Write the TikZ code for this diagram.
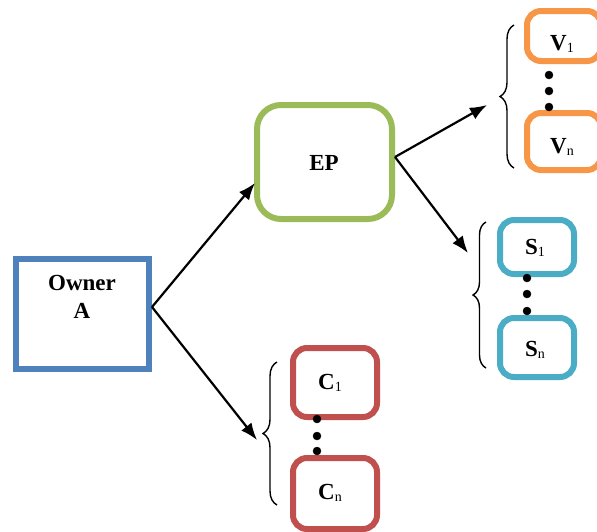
\documentclass[tikz,border=0pt]{standalone}
\usepackage{fontspec}
\setmainfont{Liberation Serif}
\usepackage{xcolor}
\usepackage{tikz}
\usetikzlibrary{arrows.meta}
\usetikzlibrary{decorations.pathreplacing}

\definecolor{ownerblue}{HTML}{4F81BD}
\definecolor{epgreen}{HTML}{9BBB59}
\definecolor{vorange}{HTML}{F79646}
\definecolor{saqua}{HTML}{4BACC6}
\definecolor{cred}{HTML}{C0504D}

\newcommand{\idx}[1]{{\fontsize{14}{14}\selectfont\mdseries\raisebox{-2pt}{#1}}}

\begin{document}
\begin{tikzpicture}[x = 1pt, y = -1pt,
    box/.style = {draw, line width = 6pt, inner sep = 0pt},
    lbl/.style = {font = \fontsize{23}{28}\selectfont\bfseries, inner sep = 0pt},
    link/.style = {line width = 2.2pt, -{Latex[length = 17pt, width = 13pt]}},
    curly/.style = {decorate, decoration = {brace, amplitude = 14pt}, line width = 1.4pt}]
\useasboundingbox (0, 0) rectangle (597, 531);

\node[box, draw = ownerblue, minimum width = 133pt, minimum height = 110pt] (owner) at (82.5, 314) {};
\node[box, draw = epgreen, rounded corners = 24pt, minimum width = 135pt, minimum height = 114pt] (ep) at (324.5, 162) {};
\node[box, draw = vorange, rounded corners = 14pt, minimum width = 74pt, minimum height = 50pt] (v1) at (564, 36) {};
\node[box, draw = vorange, rounded corners = 14pt, minimum width = 74pt, minimum height = 57pt] (vn) at (564, 141.5) {};
\node[box, draw = saqua, rounded corners = 14pt, minimum width = 74pt, minimum height = 54pt] (s1) at (537, 247) {};
\node[box, draw = saqua, rounded corners = 14pt, minimum width = 74pt, minimum height = 59pt] (sn) at (537, 347.5) {};
\node[box, draw = cred, rounded corners = 14pt, minimum width = 84pt, minimum height = 69pt] (c1) at (335, 382.5) {};
\node[box, draw = cred, rounded corners = 14pt, minimum width = 84pt, minimum height = 71pt] (cn) at (335, 493.5) {};

\node[lbl, align = center] (ownertxt) at (82, 297) {Owner\\A};
\node[lbl] (eptxt) at (324, 163) {EP};
\node[lbl] (v1txt) at (562, 44) {V\idx{1}};
\node[lbl] (vntxt) at (562, 147) {V\idx{n}};
\node[lbl] (s1txt) at (535, 248) {S\idx{1}};
\node[lbl] (sntxt) at (535, 350) {S\idx{n}};
\node[lbl] (c1txt) at (330, 383) {C\idx{1}};
\node[lbl] (cntxt) at (330, 493) {C\idx{n}};

\coordinate (vtop) at (514, 25);
\coordinate (vbot) at (514, 168);
\coordinate (stop) at (486, 222);
\coordinate (sbot) at (486, 368);
\coordinate (ctop) at (277, 362);
\coordinate (cbot) at (277, 505);
\draw [curly] (vbot) -- (vtop);
\draw [curly, decoration = {amplitude = 13pt}] (sbot) -- (stop);
\draw [curly] (cbot) -- (ctop);

\coordinate (epin) at (255, 183);
\coordinate (cin) at (257, 440);
\coordinate (vin) at (487, 105);
\coordinate (sin) at (468, 253);
\draw [link] ([yshift = 7pt]owner.east) -- (epin);
\draw [link] ([yshift = 7pt]owner.east) -- (cin);
\draw [link] ([yshift = 5pt]ep.east) -- (vin);
\draw [link] ([yshift = 5pt]ep.east) -- (sin);

\filldraw (549, 75) circle (4pt) (549, 91) circle (4pt) (549, 107) circle (4pt);
\filldraw (527, 278) circle (4pt) (527, 294) circle (4pt) (527, 311) circle (4pt);
\filldraw (317, 419) circle (4pt) (317, 436) circle (4pt) (317, 451) circle (4pt);
\end{tikzpicture}
\end{document}
